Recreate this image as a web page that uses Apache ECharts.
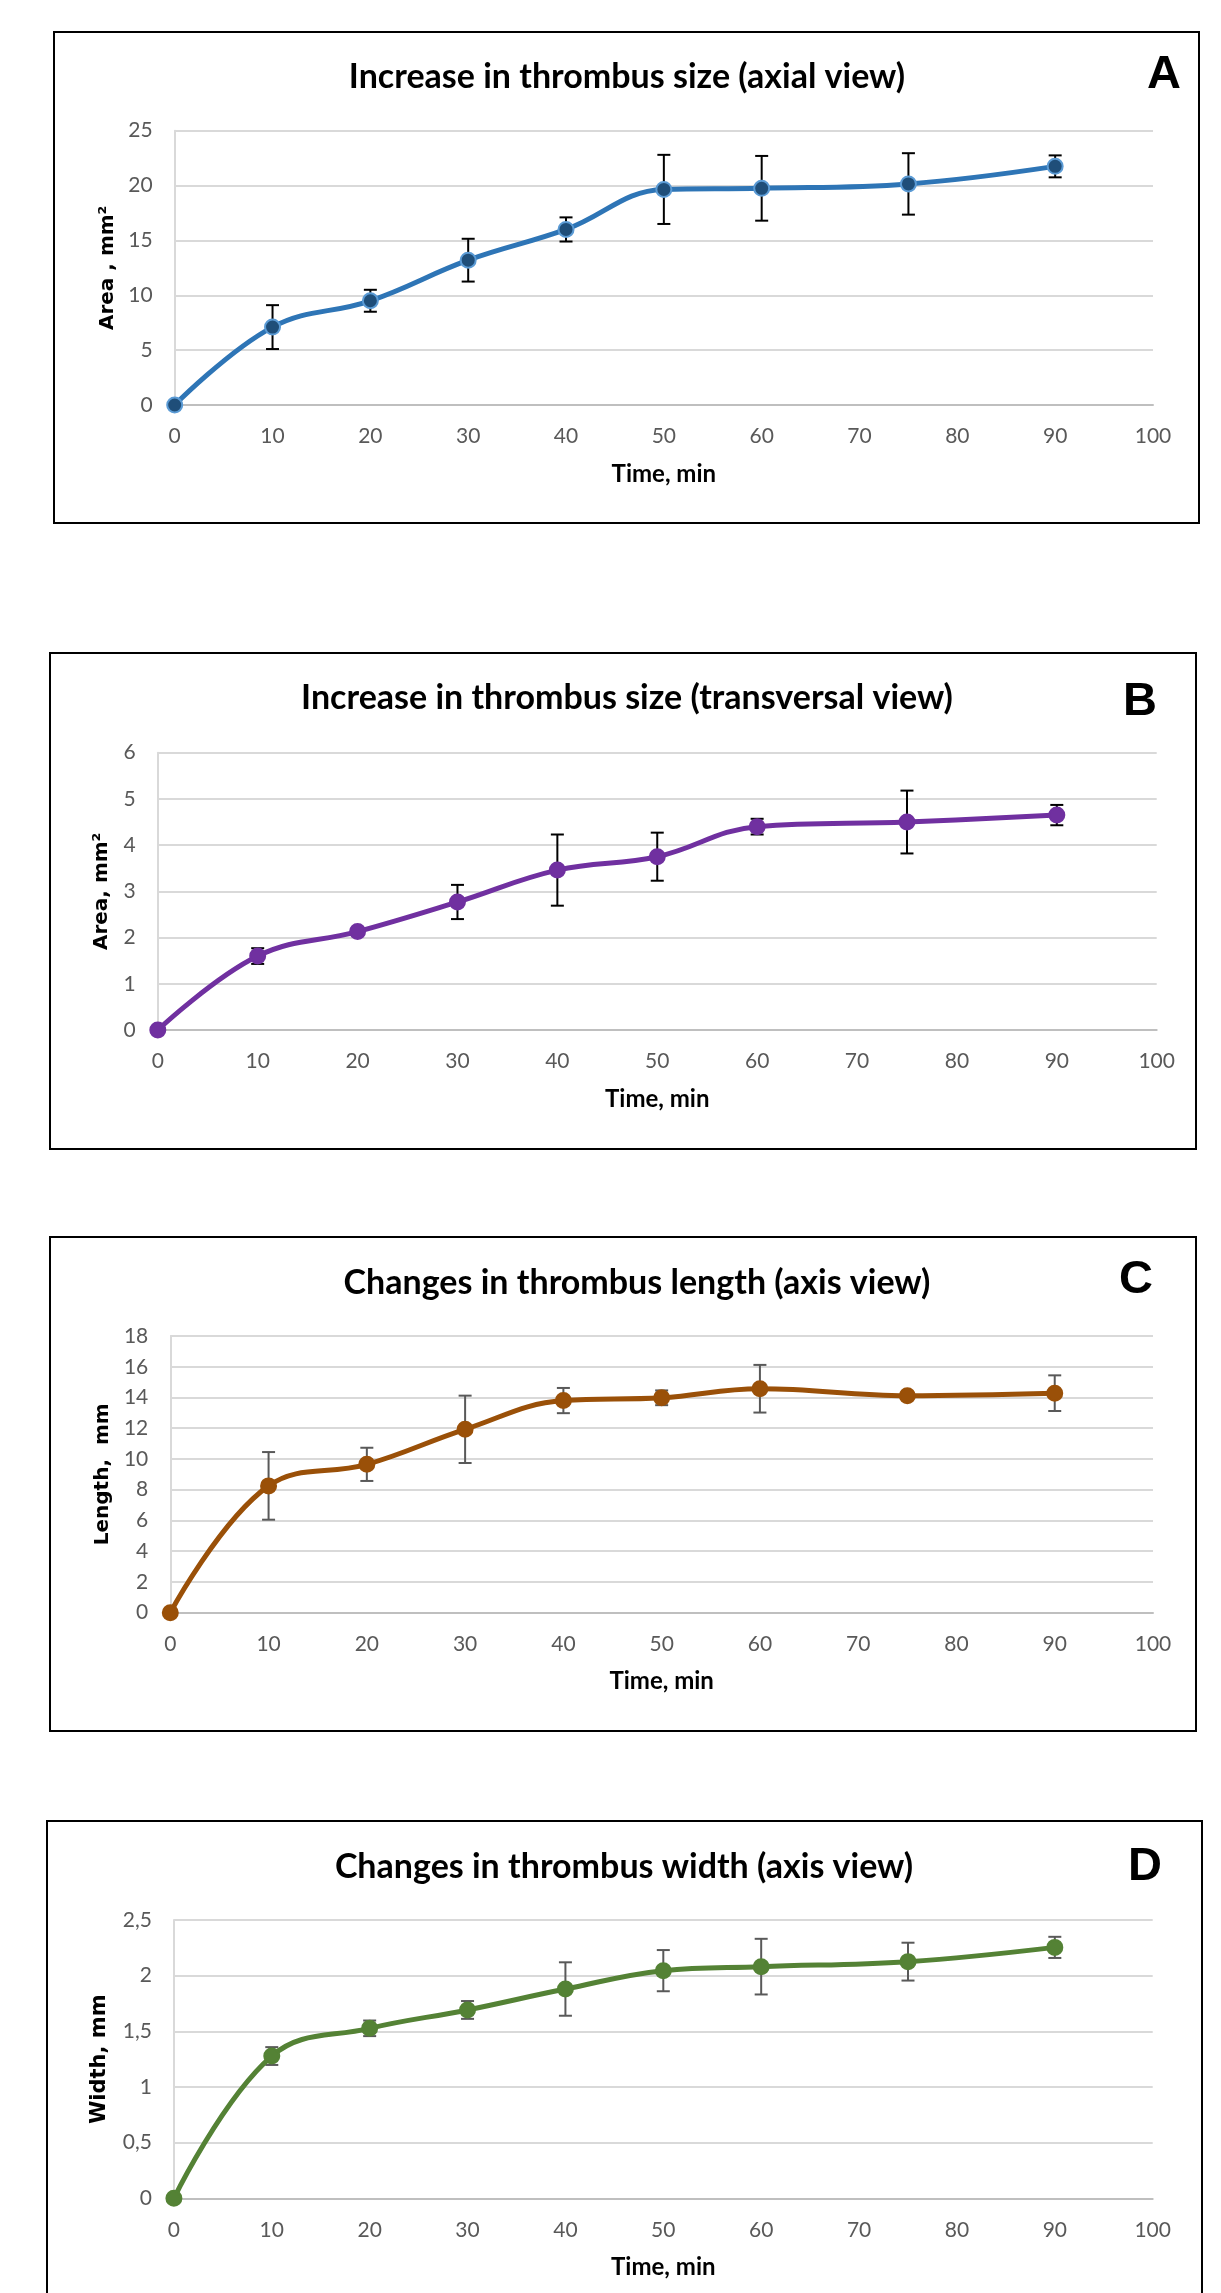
<!DOCTYPE html>
<html>
<head>
<meta charset="utf-8">
<script src="https://cdn.jsdelivr.net/npm/echarts@6/dist/echarts.min.js"></script>
<style>
  html, body { margin: 0; padding: 0; background: #fff; }
  #chart { width: 1221px; height: 2293px; }
</style>
</head>
<body>
<div id="chart"></div>
<script>
// ---------- DATA ----------
const timeMin = [0, 10, 20, 30, 40, 50, 60, 75, 90];
const xTicks = [0, 10, 20, 30, 40, 50, 60, 70, 80, 90, 100];

const axialArea = [0, 7.1, 9.5, 13.2, 16.0, 19.65, 19.75, 20.15, 21.75];
const axialErr  = [0, 2.0, 1.0, 1.95, 1.1, 3.15, 2.95, 2.8, 1.0];

const transArea = [0, 1.6, 2.13, 2.77, 3.46, 3.75, 4.4, 4.5, 4.65];
const transErr  = [0, 0.17, 0.05, 0.37, 0.77, 0.52, 0.17, 0.68, 0.22];

const lengthMm  = [0, 8.25, 9.65, 11.93, 13.8, 13.98, 14.57, 14.12, 14.28];
const lengthErr = [0, 2.2, 1.08, 2.19, 0.82, 0.48, 1.55, 0.2, 1.16];

const widthMm   = [0, 1.278, 1.527, 1.692, 1.88, 2.045, 2.081, 2.126, 2.254];
const widthErr  = [0, 0.08, 0.07, 0.08, 0.24, 0.185, 0.25, 0.17, 0.095];

const titles = [
  'Increase in thrombus size (axial view)',
  'Increase in thrombus size (transversal view)',
  'Changes in thrombus length (axis view)',
  'Changes in thrombus width (axis view)'
];
const letters = ['A', 'B', 'C', 'D'];
const yNames = ['Area , mm\u00B2', 'Area, mm\u00B2', 'Length,  mm', 'Width, mm'];
const xName = 'Time, min';

// ---------- LAYOUT / STYLE ----------
const panels = [
  { grid: {left: 174.7, top: 130.7, width: 978.3, height: 274.3}, yMax: 25, yInt: 5,
    box: [54, 32, 1145, 491], titleXY: [627, 77], letterXY: [1164, 75], nameGap: 57,
    color: '#2E75B6', mFill: '#1F4E79', mBorder: '#5B9BD5', errColor: '#000000', values: axialArea, errs: axialErr, yNameSize: 20 },
  { grid: {left: 157.8, top: 752.7, width: 998.9, height: 277.3}, yMax: 6, yInt: 1,
    box: [50, 653, 1146, 496], titleXY: [627, 698], letterXY: [1140, 702], nameGap: 46,
    color: '#7030A0', mFill: '#7030A0', mBorder: '#7030A0', errColor: '#000000', values: transArea, errs: transErr, yNameSize: 20 },
  { grid: {left: 170.3, top: 1336, width: 982.7, height: 276.7}, yMax: 18, yInt: 2,
    box: [50, 1237, 1146, 494], titleXY: [637, 1283], letterXY: [1136, 1280], nameGap: 58,
    color: '#9A5008', mFill: '#9A5008', mBorder: '#9A5008', errColor: '#595959', values: lengthMm, errs: lengthErr, yNameSize: 20 },
  { grid: {left: 173.9, top: 1920, width: 978.8, height: 278.3}, yMax: 2.5, yInt: 0.5,
    box: [47, 1821, 1155, 600], titleXY: [624, 1867], letterXY: [1145, 1867], nameGap: 64,
    color: '#548235', mFill: '#548235', mBorder: '#548235', errColor: '#595959', values: widthMm, errs: widthErr, yNameSize: 21 }
];

const grids = [], xAxes = [], yAxes = [], series = [], graphics = [];

panels.forEach((p, i) => {
  grids.push(Object.assign({ outerBoundsMode: 'none', containLabel: false }, p.grid));
  xAxes.push({
    type: 'value', gridIndex: i, min: xTicks[0], max: xTicks[xTicks.length - 1], interval: xTicks[1] - xTicks[0],
    name: xName, nameLocation: 'middle', nameGap: 57, nameMoveOverlap: false,
    nameTextStyle: { fontFamily: 'Lato', fontWeight: 'bold', fontSize: 24, color: '#000' },
    axisLine: { show: true, onZero: false, lineStyle: { color: '#BFBFBF', width: 2 } },
    axisTick: { show: false },
    axisLabel: { show: true, margin: 21, color: '#595959', fontFamily: 'Lato', fontSize: 21, showMinLabel: true, showMaxLabel: true, hideOverlap: false },
    splitLine: { show: false }
  });
  yAxes.push({
    type: 'value', gridIndex: i, min: 0, max: p.yMax, interval: p.yInt,
    name: yNames[i], nameLocation: 'middle', nameGap: p.nameGap, nameMoveOverlap: false,
    nameTextStyle: { fontFamily: 'DejaVu Sans', fontWeight: 'bold', fontSize: p.yNameSize, color: '#000' },
    axisLine: { show: true, onZero: false, lineStyle: { color: '#D9D9D9', width: 2 } },
    axisTick: { show: false },
    axisLabel: { show: true, margin: 22, color: '#595959', fontFamily: 'Lato', fontSize: 21, showMinLabel: true, showMaxLabel: true, hideOverlap: false,
      formatter: v => String(v).replace('.', ',') },
    splitLine: { show: true, lineStyle: { color: '#D9D9D9', width: 2 } }
  });
  const errData = timeMin.map((t, k) => [t, p.values[k], p.errs[k]]);
  series.push({
    type: 'custom', xAxisIndex: i, yAxisIndex: i, z: 3, clip: false,
    data: errData, encode: { x: 0, y: 1 },
    renderItem: (params, api) => {
      const x = api.value(0), y = api.value(1), e = api.value(2);
      const top = api.coord([x, y + e]);
      const bot = api.coord([x, y - e]);
      const hw = 6.5;
      const st = { stroke: p.errColor, lineWidth: 2 };
      return { type: 'group', children: [
        { type: 'line', shape: { x1: top[0], y1: top[1], x2: bot[0], y2: bot[1] }, style: st },
        { type: 'line', shape: { x1: top[0] - hw, y1: top[1], x2: top[0] + hw, y2: top[1] }, style: st },
        { type: 'line', shape: { x1: bot[0] - hw, y1: bot[1], x2: bot[0] + hw, y2: bot[1] }, style: st }
      ]};
    }
  });
  series.push({
    type: 'line', xAxisIndex: i, yAxisIndex: i, z: 4,
    data: timeMin.map((t, k) => [t, p.values[k]]),
    smooth: 0.4,
    showSymbol: true, symbol: 'circle', symbolSize: 15,
    lineStyle: { color: p.color, width: 5 },
    itemStyle: { color: p.mFill, borderColor: p.mBorder, borderWidth: 2 },
    emphasis: { disabled: true }
  });
  graphics.push({
    type: 'rect', silent: true, z: 10,
    shape: { x: p.box[0], y: p.box[1], width: p.box[2], height: p.box[3] },
    style: { fill: 'none', stroke: '#000', lineWidth: 2 }
  });
  graphics.push({
    type: 'text', silent: true, z: 10,
    style: { text: titles[i], x: p.titleXY[0], y: p.titleXY[1], font: 'bold 34px Lato', fill: '#000',
      textAlign: 'center', textVerticalAlign: 'middle', align: 'center', verticalAlign: 'middle' }
  });
  graphics.push({
    type: 'text', silent: true, z: 10,
    style: { text: letters[i], x: p.letterXY[0], y: p.letterXY[1], font: 'bold 47px "Liberation Sans"', fill: '#000',
      textAlign: 'center', textVerticalAlign: 'middle', align: 'center', verticalAlign: 'middle' }
  });
});

const chart = echarts.init(document.getElementById('chart'), null, { renderer: 'canvas' });
chart.setOption({
  animation: false,
  backgroundColor: '#ffffff',
  grid: grids,
  xAxis: xAxes,
  yAxis: yAxes,
  series: series,
  graphic: { elements: graphics }
});
</script>
</body>
</html>
